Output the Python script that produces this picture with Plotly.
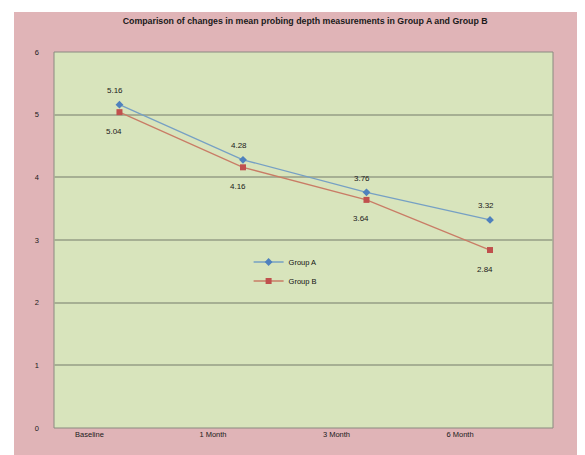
import plotly.graph_objects as go

categories = ["Baseline", "1 Month", "3 Month", "6 Month"]
group_a = [5.16, 4.28, 3.76, 3.32]
group_b = [5.04, 4.16, 3.64, 2.84]
y_ticks = [0, 1, 2, 3, 4, 5, 6]

FONT = "Liberation Sans, Arial, sans-serif"

fig = go.Figure()
fig.add_trace(go.Scatter(
    x=categories, y=group_a, name="Group A", mode="lines+markers",
    line=dict(color="#76a0c4", width=1.3),
    marker=dict(symbol="diamond", size=6, color="#4f81bd"),
))
fig.add_trace(go.Scatter(
    x=categories, y=group_b, name="Group B", mode="lines+markers",
    line=dict(color="#c97c66", width=1.3),
    marker=dict(symbol="square", size=6, color="#c0504d"),
))

for c, v in zip(categories, group_a):
    fig.add_annotation(x=c, y=v, text=f"{v:.2f}", showarrow=False,
                       yshift=14, xshift=-4,
                       font=dict(size=8, color="#1a1a1a", family=FONT))
for c, v in zip(categories, group_b):
    fig.add_annotation(x=c, y=v, text=f"{v:.2f}", showarrow=False,
                       yshift=-19, xshift=-5,
                       font=dict(size=8, color="#1a1a1a", family=FONT))

# pink outer chart area, then green plot area on top of it
fig.add_shape(type="rect", xref="paper", yref="paper",
              x0=-40/499, x1=1+50/499, y0=-40/376, y1=1+40/376,
              fillcolor="#e0b4b7", line=dict(width=0), layer="below")
fig.add_shape(type="rect", xref="paper", yref="paper",
              x0=0, x1=1, y0=0, y1=1,
              fillcolor="#d8e4bc", line=dict(color="#8a8a80", width=1), layer="below")

fig.update_layout(
    width=577, height=447,
    margin=dict(l=46, r=32, t=44, b=27),
    paper_bgcolor="white",
    plot_bgcolor="#d8e4bc",
    title=dict(text="<b>Comparison of changes in mean probing depth measurements in Group A and Group B</b>",
               x=0.515, xanchor="center", y=0.972, yanchor="middle",
               font=dict(size=8.8, color="#1a1a1a", family=FONT)),
    font=dict(family=FONT, color="#1a1a1a"),
    showlegend=True,
    legend=dict(x=0.39, y=0.48, xanchor="left", yanchor="top",
                bgcolor="rgba(0,0,0,0)", font=dict(size=7.5, color="#111111"),
                tracegroupgap=4, itemwidth=30),
    xaxis=dict(type="category", range=[-0.53, 3.51], showgrid=False,
               showline=False, ticks="", tickfont=dict(size=7.5),
               ticklabelshift=-30, zeroline=False),
    yaxis=dict(range=[0, 6], tickvals=y_ticks, showgrid=True,
               gridcolor="#a6af93", gridwidth=1.5,
               showline=False, ticks="", tickfont=dict(size=7.5),
               ticklabelstandoff=14, zeroline=False),
)

fig.write_html("out.html")
